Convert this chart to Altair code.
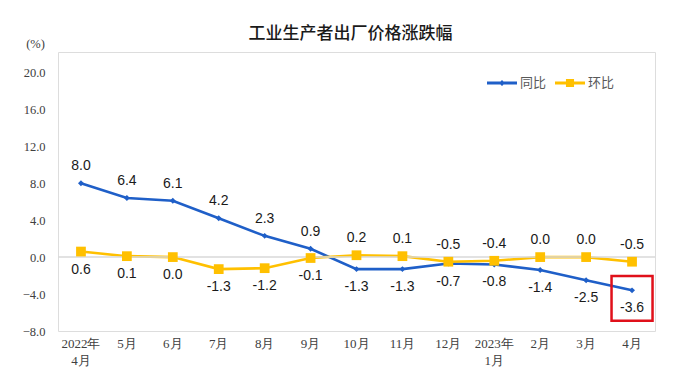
import altair as alt
import pandas as pd

months = ["2022年4月", "5月", "6月", "7月", "8月", "9月", "10月", "11月", "12月",
          "2023年1月", "2月", "3月", "4月"]
tongbi = [8.0, 6.4, 6.1, 4.2, 2.3, 0.9, -1.3, -1.3, -0.7, -0.8, -1.4, -2.5, -3.6]
huanbi = [0.6, 0.1, 0.0, -1.3, -1.2, -0.1, 0.2, 0.1, -0.5, -0.4, 0.0, 0.0, -0.5]
tongbi_pos = ["above"] * 6 + ["below"] * 7
huanbi_pos = ["below"] * 6 + ["above"] * 7
series_names = ["同比", "环比"]
series_colors = ["#1f5fc8", "#ffc000"]
y_ticks = [-8, -4, 0, 4, 8, 12, 16, 20]
highlight_month = "4月"
highlight_y = [-2.05, -6.9]

rows = []
for m, v, p in zip(months, tongbi, tongbi_pos):
    rows.append({"month": m, "series": "同比", "value": v, "pos": p, "label": f"{v:.1f}"})
for m, v, p in zip(months, huanbi, huanbi_pos):
    rows.append({"month": m, "series": "环比", "value": v, "pos": p, "label": f"{v:.1f}"})
df = pd.DataFrame(rows)

x_axis = alt.Axis(labelAngle=0, ticks=False, domain=False, labelOverlap=False,
                  labelFont="Liberation Serif", labelFontSize=13,
                  labelColor="#404040", labelPadding=6, labelLineHeight=17,
                  labelExpr="indexof(datum.label,'年')>0 ? [slice(datum.label,0,indexof(datum.label,'年')+1), slice(datum.label,indexof(datum.label,'年')+1)] : datum.label")
x_scale = alt.Scale(paddingInner=0, paddingOuter=0)
x_enc = alt.X("month:N", sort=months, title=None, scale=x_scale, axis=x_axis)

y_scale = alt.Scale(domain=[-8, 22.2], nice=False, zero=False)
y_axis = alt.Axis(values=y_ticks, format=".1f", grid=False, ticks=False, domain=False,
                  labelOverlap=False,
                  labelFont="Liberation Serif", labelFontSize=12.5, labelColor="#404040",
                  labelPadding=13, titleAngle=0, titleX=-23, titleY=-9,
                  titleAlign="center", titleBaseline="middle",
                  titleFont="Liberation Serif", titleFontSize=12.5,
                  titleFontWeight="normal", titleColor="#404040")
y_enc = alt.Y("value:Q", scale=y_scale, title="(%)", axis=y_axis)
color_scale = alt.Scale(domain=series_names, range=series_colors)

path_tb = "M-1,-0.1L1,-0.1L1,0.1L-1,0.1Z M0,-0.2L0.2,0L0,0.2L-0.2,0Z"
path_hb = "M-1,-0.1L1,-0.1L1,0.1L-1,0.1Z M-0.27,-0.27L0.27,-0.27L0.27,0.27L-0.27,0.27Z"
legend_cfg = alt.Legend(title=None, orient="none", legendX=429, legendY=16, direction="horizontal",
                        symbolSize=900, symbolOpacity=1, symbolStrokeWidth=0,
                        labelFont="Noto Sans CJK SC", labelFontSize=13, labelColor="#595959",
                        labelOffset=3, columnPadding=8)

base = alt.Chart(df)

lines = base.mark_line(strokeWidth=2.6).encode(
    x=x_enc, y=y_enc,
    color=alt.Color("series:N", scale=color_scale, legend=legend_cfg))

zero_rule = alt.Chart(pd.DataFrame({"z": [0]})).mark_rule(color="#d9d9d9", strokeWidth=1.5).encode(
    y=alt.Y("z:Q", scale=y_scale, title="(%)", axis=y_axis))

pts_tb = base.transform_filter(alt.datum.series == "同比").mark_point(
    shape="diamond", filled=True, size=35, opacity=1, color=series_colors[0]).encode(x=x_enc, y=y_enc)
pts_hb = base.transform_filter(alt.datum.series == "环比").mark_point(
    shape="square", filled=True, size=95, opacity=1, color=series_colors[1]).encode(x=x_enc, y=y_enc)

legend_proxy = base.transform_filter("false").mark_point(filled=True, opacity=1).encode(
    x=x_enc, y=y_enc,
    color=alt.Color("series:N", scale=color_scale, legend=legend_cfg),
    shape=alt.Shape("series:N", scale=alt.Scale(domain=series_names, range=[path_tb, path_hb]),
                    legend=legend_cfg))

lab_above = base.transform_filter(alt.datum.pos == "above").mark_text(
    dy=-17, font="Liberation Sans", fontSize=14, color="#1a1a1a").encode(x=x_enc, y=y_enc, text="label:N")
lab_below = base.transform_filter(alt.datum.pos == "below").mark_text(
    dy=18, font="Liberation Sans", fontSize=14, color="#1a1a1a").encode(x=x_enc, y=y_enc, text="label:N")

box = alt.Chart(pd.DataFrame({"month": [highlight_month], "y1": [highlight_y[0]], "y2": [highlight_y[1]]})).mark_bar(
    width=41, filled=False, stroke="#e0101a", strokeWidth=2.5).encode(
    x=alt.X("month:N", sort=months, title=None, scale=x_scale, axis=x_axis),
    y=alt.Y("y1:Q", scale=y_scale, title="(%)", axis=y_axis), y2="y2:Q")

chart = alt.layer(lines, zero_rule, pts_tb, pts_hb, legend_proxy, lab_above, lab_below, box).properties(
    width=597, height=279,
    padding={"left": 50, "top": 44, "right": 10, "bottom": 45},
    autosize=alt.AutoSizeParams(type="none"),
    title=alt.Title("工业生产者出厂价格涨跌幅", font="Noto Sans CJK SC", fontSize=17,
                    fontWeight=500, color="#1a1a1a", anchor="middle", offset=-6, dx=-6),
).configure_view(stroke="#d9d9d9", strokeWidth=1.2).configure(background="white")

chart.save("out.html", embed_options={"renderer": "svg", "actions": False})
